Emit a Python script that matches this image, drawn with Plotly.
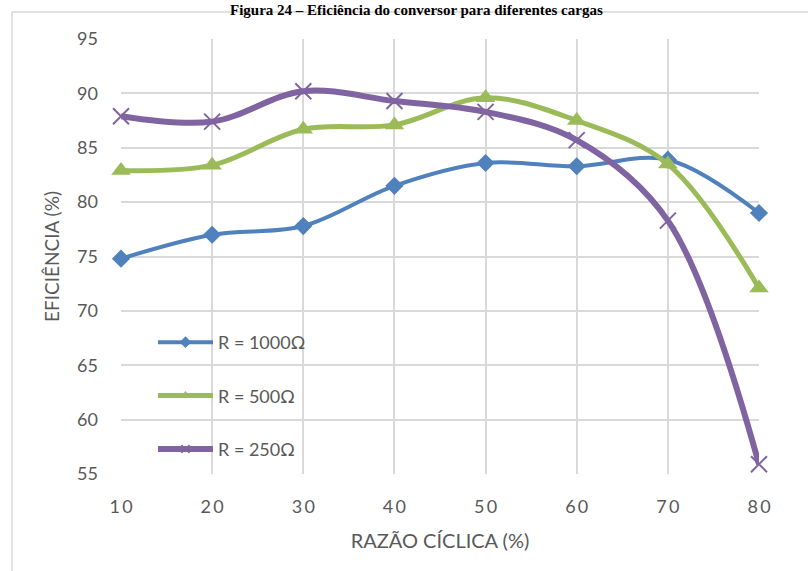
import plotly.graph_objects as go

# Duty cycle (%) and measured efficiency (%) for three load resistances
razao_ciclica = [10, 20, 30, 40, 50, 60, 70, 80]
eff_1000 = [74.8, 77.0, 77.8, 81.5, 83.6, 83.3, 83.9, 79.0]
eff_500 = [82.9, 83.4, 86.7, 87.1, 89.6, 87.5, 83.5, 72.1]
eff_250 = [87.9, 87.4, 90.2, 89.3, 88.3, 85.7, 78.3, 55.9]

x_ticks = [10, 20, 30, 40, 50, 60, 70, 80]
x_ticktext = ["\u2009".join(str(v)) for v in x_ticks]
y_ticks = [55, 60, 65, 70, 75, 80, 85, 90, 95]

W, H = 808, 571
L, R, T, B = 121, 49, 39, 97
PW, PH = W - L - R, H - T - B


def px_x(p):
    return (p - L) / PW


def px_y(p):
    return (H - B - p) / PH


TXT = "#595959"
GRID = "#d9d9d9"
FONT = "Lato, 'Open Sans', sans-serif"

fig = go.Figure()

series = [
    ("R = 1000Ω", eff_1000, "#4F81BD", 4, "diamond", 14, 0, 9),
    ("R = 500Ω", eff_500, "#9BBB59", 5, "triangle-up", 17, 0, 9),
    ("R = 250Ω", eff_250, "#8064A2", 6, "x-thin", 16, 2, 8),
]

for name, ys, color, lw, sym, ms, mlw, leg_ms in series:
    # data curve (smoothed) with markers
    fig.add_trace(go.Scatter(
        x=razao_ciclica, y=ys, name=name, legendgroup=name, showlegend=False,
        mode="lines+markers",
        line=dict(color=color, width=lw, shape="spline", smoothing=1.0),
        marker=dict(symbol=sym, size=ms, color=color,
                    line=dict(color=color, width=mlw)),
        cliponaxis=False,
    ))
    # legend key with a smaller marker
    fig.add_trace(go.Scatter(
        x=[None], y=[None], name=name, legendgroup=name, showlegend=True,
        mode="lines+markers",
        line=dict(color=color, width=lw),
        marker=dict(symbol=sym, size=leg_ms, color=color,
                    line=dict(color=color, width=min(mlw, 1.5))),
    ))

fig.update_layout(
    width=W, height=H,
    margin=dict(l=L, r=R, t=T, b=B, pad=0),
    paper_bgcolor="white", plot_bgcolor="white",
    font=dict(family=FONT, color=TXT, size=18),
    showlegend=True,
    legend=dict(
        x=px_x(153), y=px_y(324), xanchor="left", yanchor="top",
        bgcolor="rgba(0,0,0,0)", font=dict(size=18, color=TXT),
        tracegroupgap=27, itemwidth=55,
    ),
    xaxis=dict(
        range=[10, 80], tickvals=x_ticks, ticktext=x_ticktext,
        showgrid=True, gridcolor=GRID, gridwidth=1.5,
        zeroline=False, showline=False, ticks="",
        tickfont=dict(size=18, color=TXT), ticklabelstandoff=20,
        title=dict(text="RAZÃO CÍCLICA (%)", font=dict(size=20, color=TXT), standoff=17),
    ),
    yaxis=dict(
        range=[55, 95], tickvals=y_ticks,
        showgrid=True, gridcolor=GRID, gridwidth=1.5,
        zeroline=False, showline=False, ticks="",
        tickfont=dict(size=18, color=TXT), ticklabelstandoff=22,
        title=dict(text="EFICIÊNCIA (%)", font=dict(size=19, color=TXT), standoff=12),
    ),
    shapes=[
        # chart-area frame
        dict(type="line", xref="paper", yref="paper", layer="below",
             x0=px_x(12), x1=px_x(812), y0=px_y(12), y1=px_y(12),
             line=dict(color=GRID, width=1.5)),
        dict(type="line", xref="paper", yref="paper", layer="below",
             x0=px_x(12), x1=px_x(12), y0=px_y(12), y1=px_y(575),
             line=dict(color=GRID, width=1.5)),
    ],
    annotations=[
        dict(text="<b>Figura 24 – Eficiência do conversor para diferentes cargas</b>",
             xref="paper", yref="paper", x=px_x(416), y=px_y(0),
             xanchor="center", yanchor="top", showarrow=False,
             bgcolor="rgba(0,0,0,0)",
             font=dict(family="'Liberation Serif', 'Times New Roman', serif",
                       size=15, color="black")),
    ],
)

fig.write_html("out.html")
